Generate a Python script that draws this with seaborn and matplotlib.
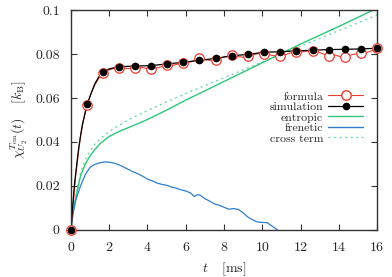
import numpy as np
import pandas as pd
import matplotlib
matplotlib.use("Agg")
import matplotlib.pyplot as plt
import seaborn as sns
from matplotlib.lines import Line2D

# simulation (black dots + line)
sim_dot_t = [0, 0.85, 1.69, 2.51, 3.35, 4.19, 5.04, 5.88, 6.70, 7.57, 8.43, 9.27,
             10.10, 10.94, 11.78, 12.65, 13.47, 14.30, 15.17, 16.0]
sim_dot_v = [0, 0.0571, 0.0718, 0.0742, 0.0745, 0.0747, 0.0755, 0.0762, 0.0771, 0.0780,
             0.0792, 0.0798, 0.0808, 0.0810, 0.0814, 0.0817, 0.0820, 0.0821, 0.0823, 0.0826]
sim_start_t = [0.1, 0.2, 0.4, 0.6, 1.05, 1.25, 1.45, 2.0]
sim_start_v = [0.012, 0.022, 0.037, 0.048, 0.062, 0.0665, 0.0695, 0.0732]

# formula (red circles + noisy line)
form_dot_t = sim_dot_t
form_dot_v = [0, 0.0570, 0.0715, 0.0738, 0.0735, 0.0730, 0.0750, 0.0761, 0.0780, 0.0773,
              0.0795, 0.0791, 0.0800, 0.0792, 0.0810, 0.0815, 0.0792, 0.0784, 0.0803, 0.0826]
form_line_t = np.linspace(0, 16, 65)
form_line_v = [0, 0.025, 0.043, 0.054, 0.061, 0.066, 0.0695, 0.0717, 0.0728, 0.0735,
               0.0738, 0.0736, 0.0733, 0.0736, 0.0734, 0.0738, 0.0733, 0.0730, 0.0737, 0.0742,
               0.0749, 0.0746, 0.0752, 0.0758, 0.0760, 0.0764, 0.0772, 0.0779, 0.0774, 0.0771,
               0.0773, 0.0780, 0.0786, 0.0790, 0.0795, 0.0788, 0.0785, 0.0791, 0.0796, 0.0801,
               0.0800, 0.0798, 0.0794, 0.0790, 0.0793, 0.0798, 0.0805, 0.0810, 0.0808, 0.0812,
               0.0814, 0.0813, 0.0806, 0.0798, 0.0792, 0.0796, 0.0790, 0.0785, 0.0792, 0.0798,
               0.0801, 0.0804, 0.0808, 0.0815, 0.0826]

# entropic and cross term
ent_t = [0, 0.1, 0.25, 0.5, 0.75, 1.0, 1.25, 1.5, 1.75, 2.0, 2.5, 3.0, 3.5, 4, 5, 6, 8, 10, 12, 14, 16]
ent_v = [0, 0.0075, 0.0145, 0.0245, 0.030, 0.0337, 0.0365, 0.039, 0.0408, 0.0425, 0.0447,
         0.0465, 0.0483, 0.0502, 0.0545, 0.0590, 0.0675, 0.0760, 0.0845, 0.0925, 0.1008]
cross_v = [0, 0.0075, 0.015, 0.026, 0.032, 0.036, 0.039, 0.0412, 0.043, 0.0448, 0.0475,
           0.0500, 0.0522, 0.0543, 0.0582, 0.0620, 0.0692, 0.0763, 0.0835, 0.0906, 0.0977]

# frenetic (noisy)
fren_t = [0, 0.1, 0.25, 0.5, 0.75, 1.0, 1.25, 1.5, 1.75, 2.0, 2.25, 2.5, 2.75, 3.0, 3.25,
          3.5, 3.75, 4.0, 4.25, 4.5, 4.75, 5.0, 5.25, 5.5, 5.75, 6.0, 6.25, 6.45, 6.6, 6.75,
          7.0, 7.25, 7.5, 7.75, 8.0, 8.25, 8.5, 8.75, 9.0, 9.25, 9.5, 9.75, 10.0, 10.25,
          10.5, 10.8]
fren_v = [0, 0.007, 0.0135, 0.020, 0.0252, 0.0285, 0.0298, 0.0305, 0.0309, 0.0308, 0.0304,
          0.0296, 0.0286, 0.0275, 0.0264, 0.0255, 0.0244, 0.0231, 0.0223, 0.0213, 0.0207,
          0.0203, 0.0195, 0.0190, 0.0182, 0.0177, 0.0168, 0.0152, 0.0160, 0.0158, 0.0142,
          0.0131, 0.0118, 0.0112, 0.0103, 0.0094, 0.0097, 0.0093, 0.0078, 0.0058, 0.0046,
          0.0036, 0.0034, 0.0033, 0.0018, 0.0]

red = "#ee3b30"
green = "#2fc67a"
blue = "#2f7fcc"
cross_col = "#6fdcb0"

sns.set_style("ticks")
plt.rcParams["font.family"] = ["cmr10"]
plt.rcParams["mathtext.fontset"] = "cm"
plt.rcParams["axes.formatter.use_mathtext"] = True

fig = plt.figure(figsize=(3.92, 2.77), dpi=100)
ax = fig.add_axes([0.181, 0.170, 0.781, 0.794])

sim_line = pd.DataFrame({"t": sim_dot_t + sim_start_t, "v": sim_dot_v + sim_start_v}).sort_values("t")

sns.lineplot(x=ent_t, y=cross_v, ax=ax, color=cross_col, lw=1.0, linestyle=(0, (1.5, 2.5)))
sns.lineplot(x=ent_t, y=ent_v, ax=ax, color=green, lw=1.0)
sns.lineplot(x=fren_t, y=fren_v, ax=ax, color=blue, lw=0.9)
sns.lineplot(x=form_line_t, y=form_line_v, ax=ax, color=red, lw=0.8)
sns.lineplot(data=sim_line, x="t", y="v", ax=ax, color="black", lw=0.9, sort=False)
ax.plot(form_dot_t, form_dot_v, "o", ms=6.8, mfc="white", mec=red, mew=0.9, clip_on=False, zorder=5)
ax.plot(sim_dot_t, sim_dot_v, "o", ms=4.5, color="black", clip_on=False, zorder=6)

ax.set_xlim(0, 16)
ax.set_ylim(0, 0.1)
ax.set_xticks(range(0, 17, 2))
ax.set_yticks([0, 0.02, 0.04, 0.06, 0.08, 0.1])
ax.set_yticklabels(["0", "0.02", "0.04", "0.06", "0.08", "0.1"])
ax.tick_params(direction="in", top=True, right=True, length=4, width=0.8, labelsize=10,
               color="#333333", pad=8)
for s in ax.spines.values():
    s.set_linewidth(1.0)
    s.set_color("#333333")

ax.set_xlabel(r"$t\quad\,[\mathrm{ms}]$", fontsize=10, labelpad=5)
ax.set_ylabel(r"$\chi^{T_{\rm em}}_{U_2}(t)\quad\,[k_{\rm B}]$", fontsize=10, labelpad=4)

handles = [
    Line2D([], [], color=red, lw=0.8, marker="o", ms=6.8, mfc="white", mec=red),
    Line2D([], [], color="black", lw=0.9, marker="o", ms=4.5),
    Line2D([], [], color=green, lw=1.0),
    Line2D([], [], color=blue, lw=1.0),
    Line2D([], [], color=cross_col, lw=1.0, linestyle=(0, (1.5, 2.5))),
]
labels = ["formula", "simulation", "entropic", "frenetic", "cross term"]
ax.legend(handles, labels, loc="upper right", bbox_to_anchor=(0.955, 0.63), frameon=False,
          markerfirst=False, fontsize=8.5, handlelength=3.0, handletextpad=0.4,
          labelspacing=0.02, borderpad=0, borderaxespad=0)

fig.savefig("out.png", dpi=100)
